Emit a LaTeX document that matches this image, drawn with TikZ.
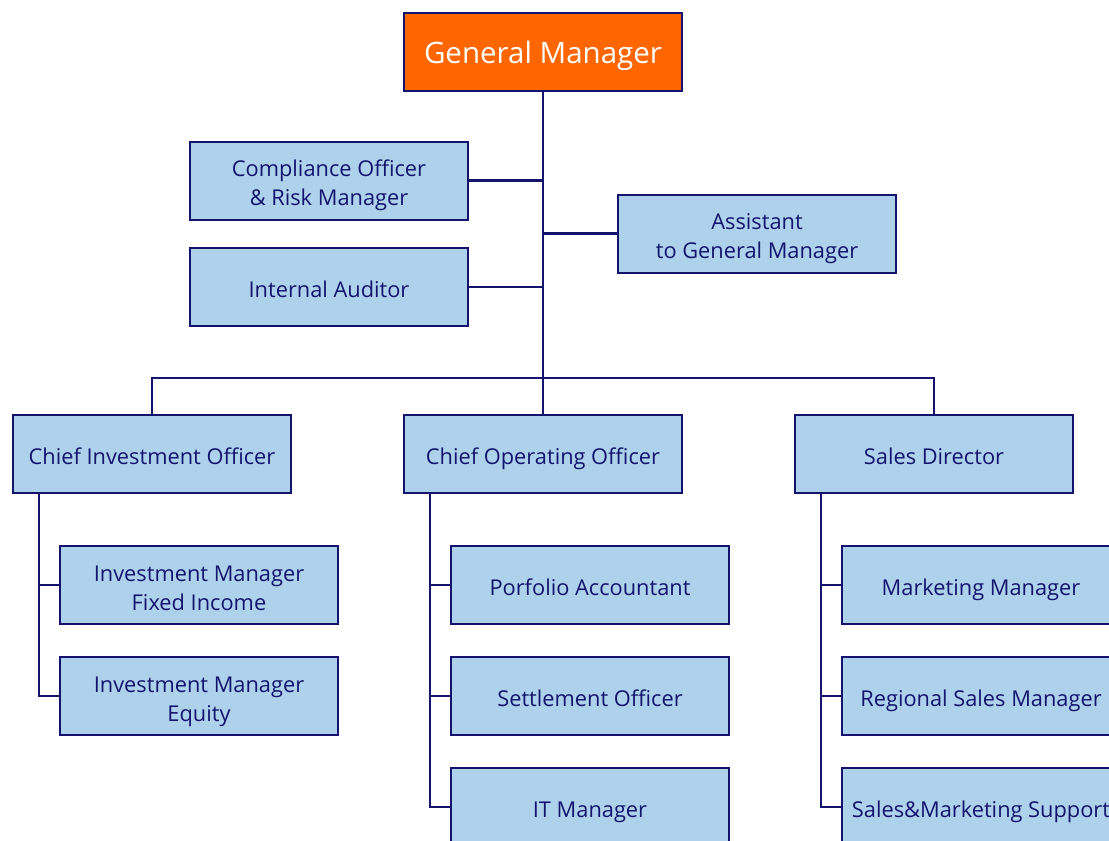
\documentclass[tikz,border=0pt]{standalone}
\usepackage{fontspec}
\setmainfont{Open Sans}
\definecolor{navy}{HTML}{14146E}
\definecolor{paleblue}{HTML}{AED2EB}
\definecolor{gmorange}{HTML}{FF6600}
\newcommand{\twolines}[2]{\rule{0pt}{27pt}#1\\#2}
\tikzset{
  post/.style={draw=navy,line width=2pt,fill=paleblue,text=navy,
    minimum width=278pt,minimum height=78pt,inner sep=0pt,align=center,
    font=\fontsize{21.8}{29}\selectfont,
    execute at begin node={\rule{0pt}{27pt}},
    execute at end node={\vphantom{g}}},
  head/.style={post,fill=gmorange,text=white,font=\fontsize{29.5}{34}\selectfont,
    execute at begin node={\rule{0pt}{31pt}}},
  link/.style={navy,line width=2.8pt}
}
\begin{document}
\begin{tikzpicture}[x=1pt,y=-1pt]
  \useasboundingbox (0,0) rectangle (1109,841);
  \clip (0,0) rectangle (1109,841);
  % top level
  \node[head] (gm) at (543,52) {General Manager};
  \node[post] (comp) at (329,180.5) {\twolines{Compliance Officer}{\& Risk Manager}};
  \node[post] (audit) at (329,287) {Internal Auditor};
  \node[post] (asst) at (757,233.5) {\twolines{Assistant}{to General Manager}};
  % officers
  \node[post] (cio) at (152,454) {Chief Investment Officer};
  \node[post] (coo) at (543,454) {Chief Operating Officer};
  \node[post] (sd) at (934,454) {Sales Director};
  % staff
  \node[post] (imfi) at (199,585) {\twolines{Investment Manager}{Fixed Income}};
  \node[post] (imeq) at (199,696) {\twolines{Investment Manager}{Equity}};
  \node[post] (acc) at (590,585) {Porfolio Accountant};
  \node[post] (settle) at (590,696) {Settlement Officer};
  \node[post] (itm) at (590,807) {IT Manager};
  \node[post] (mkt) at (981,585) {Marketing Manager};
  \node[post] (rsm) at (981,696) {Regional Sales Manager};
  \node[post] (smsup) at (981,807) {Sales\&Marketing Support};
  % connectors
  \coordinate (bar) at (543,378);
  \draw[link] (gm.south) -- (coo.north);
  \draw[link] (comp.east) -- (comp.east -| gm.south);
  \draw[link] (audit.east) -- (audit.east -| gm.south);
  \draw[link] (asst.west) -- (asst.west -| gm.south);
  \draw[link] (cio.north) |- (bar) -| (sd.north);
  \coordinate (cioT) at ([xshift=27pt]cio.south west);
  \coordinate (cooT) at ([xshift=27pt]coo.south west);
  \coordinate (sdT) at ([xshift=27pt]sd.south west);
  \draw[link] (cioT) |- (imeq.west);
  \draw[link] (imfi.west) -- (imfi.west -| cioT);
  \draw[link] (cooT) |- (itm.west);
  \draw[link] (acc.west) -- (acc.west -| cooT);
  \draw[link] (settle.west) -- (settle.west -| cooT);
  \draw[link] (sdT) |- (smsup.west);
  \draw[link] (mkt.west) -- (mkt.west -| sdT);
  \draw[link] (rsm.west) -- (rsm.west -| sdT);
\end{tikzpicture}
\end{document}
